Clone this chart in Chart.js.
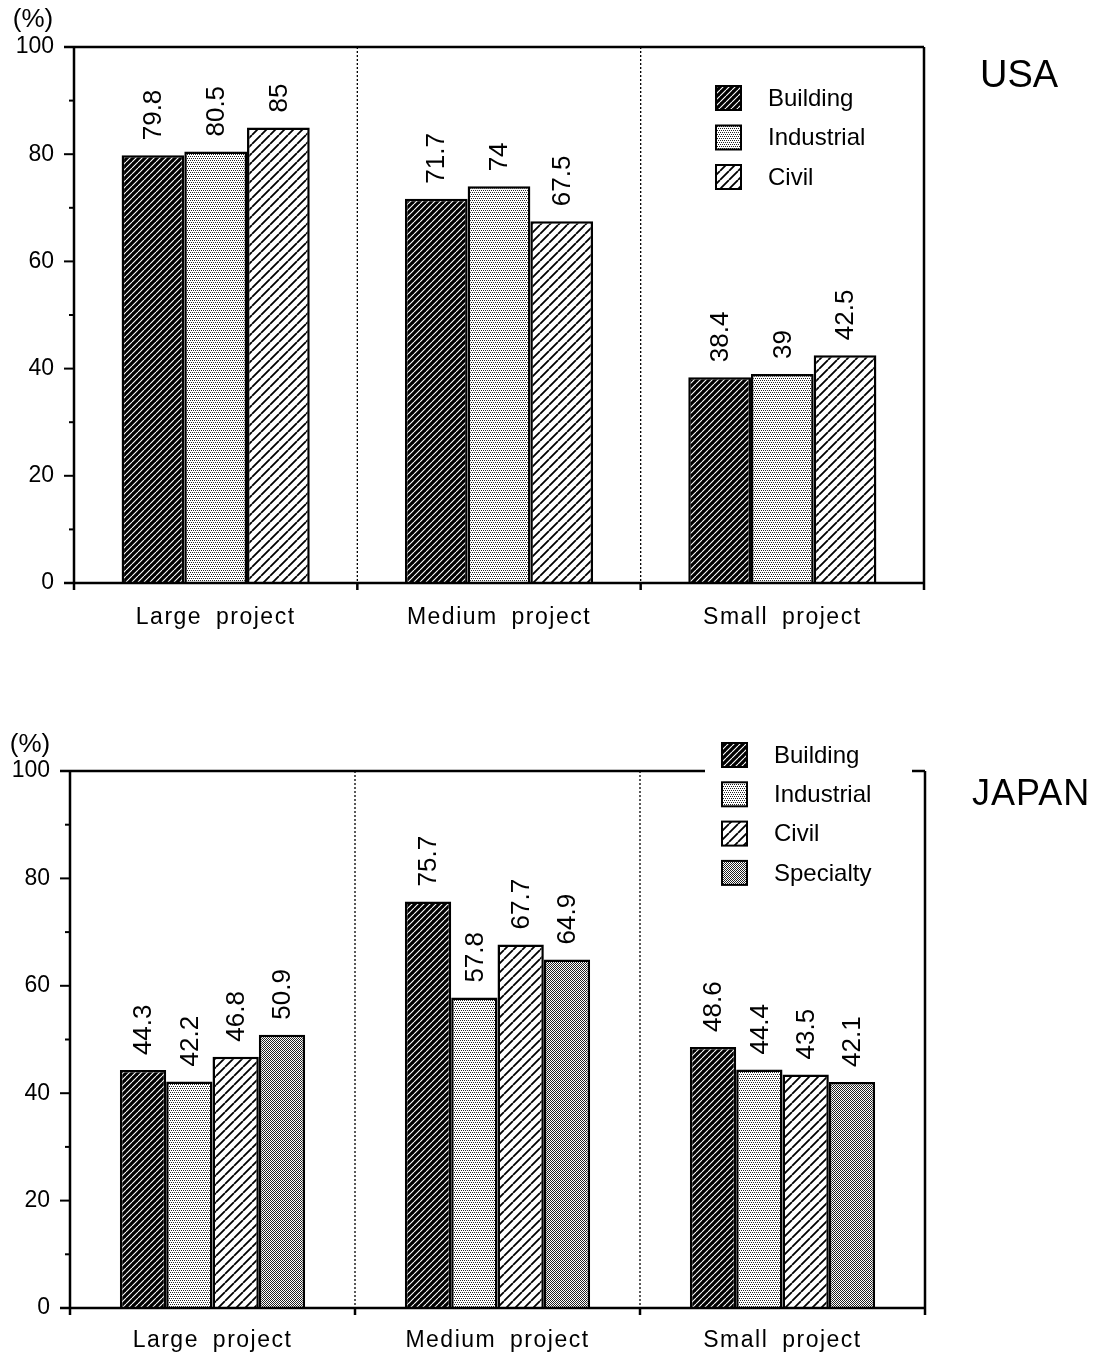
<!DOCTYPE html>
<html>
<head>
<meta charset="utf-8">
<script src="https://cdn.jsdelivr.net/npm/chart.js@4.4.0/dist/chart.umd.min.js"></script>
<style>
  body { margin: 0; background: #fff; }
  canvas { position: absolute; left: 0; }
  #usa { top: 0; }
  #japan { top: 680px; }
</style>
</head>
<body>
<canvas id="usa" width="1113" height="680"></canvas>
<canvas id="japan" width="1113" height="679"></canvas>
<script>
const categories = ['Large project', 'Medium project', 'Small project'];

const usaBuilding = [79.8, 71.7, 38.4];
const usaIndustrial = [80.5, 74, 39];
const usaCivil = [85, 67.5, 42.5];

const japanBuilding = [44.3, 75.7, 48.6];
const japanIndustrial = [42.2, 57.8, 44.4];
const japanCivil = [46.8, 67.7, 43.5];
const japanSpecialty = [50.9, 64.9, 42.1];

const yMax = 100;
const yLabelStep = 20;
const yMinorStep = 10;

const FONT = "'Liberation Sans', Arial, Helvetica, sans-serif";

// fill patterns like the old b/w print
function diag(g, s) {
  g.beginPath();
  for (const o of [-s, 0, s]) {
    g.moveTo(o, s);
    g.lineTo(o + s, 0);
  }
  g.stroke();
}

function makePattern(kind) {
  const c = document.createElement('canvas');
  const g = c.getContext('2d');
  if (kind === 'building') {
    c.width = c.height = 6;
    g.fillStyle = '#000';
    g.fillRect(0, 0, 6, 6);
    g.strokeStyle = '#fff';
    g.lineWidth = 1.1;
    diag(g, 6);
  } else if (kind === 'civil') {
    c.width = c.height = 9;
    g.fillStyle = '#fff';
    g.fillRect(0, 0, 9, 9);
    g.strokeStyle = '#000';
    g.lineWidth = 1.8;
    diag(g, 9);
  } else if (kind === 'industrial') {
    c.width = c.height = 4;
    g.fillStyle = '#fff';
    g.fillRect(0, 0, 4, 4);
    g.fillStyle = '#222';
    [[0, 0], [2, 0], [1, 2], [3, 2]].forEach(p => g.fillRect(p[0], p[1], 1, 1));
  } else {
    c.width = c.height = 2;
    g.fillStyle = '#fff';
    g.fillRect(0, 0, 2, 2);
    g.fillStyle = '#222';
    g.fillRect(0, 0, 1, 1);
    g.fillRect(1, 1, 1, 1);
  }
  return g.createPattern(c, 'repeat');
}

const fills = {
  Building: makePattern('building'),
  Industrial: makePattern('industrial'),
  Civil: makePattern('civil'),
  Specialty: makePattern('specialty')
};

function line(ctx, x1, y1, x2, y2) {
  ctx.beginPath();
  ctx.moveTo(x1, y1);
  ctx.lineTo(x2, y2);
  ctx.stroke();
}

const decor = {
  id: 'decor',
  afterDatasetsDraw(chart, args, o) {
    const ctx = chart.ctx;
    const { left, right, top, bottom } = chart.chartArea;
    const xs = chart.scales.x, ys = chart.scales.y;
    ctx.save();
    ctx.strokeStyle = '#000';
    ctx.fillStyle = '#000';

    // dotted dividers between categories
    ctx.lineWidth = 1.3;
    ctx.setLineDash([2, 2]);
    const bounds = [];
    for (let i = 1; i < categories.length; i++) {
      bounds.push((xs.getPixelForValue(i - 1) + xs.getPixelForValue(i)) / 2);
    }
    bounds.forEach(bx => line(ctx, bx, top, bx, bottom));
    ctx.setLineDash([]);

    // frame + axes
    ctx.lineWidth = 2.5;
    line(ctx, left, top, left, bottom + 7);
    line(ctx, left - 10, bottom, right, bottom);
    if (o.gap) {
      line(ctx, left - 10, top, o.gap[0], top);
      line(ctx, o.gap[1], top, right, top);
    } else {
      line(ctx, left - 10, top, right, top);
    }
    line(ctx, right, top, right, bottom + 7);
    bounds.forEach(bx => line(ctx, bx, bottom, bx, bottom + 7));

    // y tick marks
    ctx.lineWidth = 2;
    for (let v = 0; v <= yMax; v += yMinorStep) {
      const py = ys.getPixelForValue(v);
      const len = v % yLabelStep === 0 ? 10 : 5;
      line(ctx, left - len, py, left, py);
    }

    // value labels, rotated
    ctx.font = '26px ' + FONT;
    ctx.textAlign = 'left';
    ctx.textBaseline = 'middle';
    chart.data.datasets.forEach((ds, di) => {
      chart.getDatasetMeta(di).data.forEach((bar, i) => {
        ctx.save();
        ctx.translate(bar.x, bar.y - 15);
        ctx.rotate(-Math.PI / 2);
        ctx.fillText(String(ds.data[i]), 0, 1);
        ctx.restore();
      });
    });

    // category labels
    ctx.font = '23px ' + FONT;
    ctx.letterSpacing = '1.5px';
    ctx.wordSpacing = '6px';
    ctx.textAlign = 'center';
    categories.forEach((c, i) => ctx.fillText(c, xs.getPixelForValue(i), o.catY));
    ctx.letterSpacing = '0px';
    ctx.wordSpacing = '0px';

    // legend
    ctx.font = '24px ' + FONT;
    ctx.textAlign = 'left';
    chart.data.datasets.forEach((ds, i) => {
      const cy = o.legendY + i * o.legendStep;
      ctx.fillStyle = ds.backgroundColor;
      ctx.fillRect(o.legendX, cy - 12, 25, 24);
      ctx.lineWidth = 2;
      ctx.strokeRect(o.legendX, cy - 12, 25, 24);
      ctx.fillStyle = '#000';
      ctx.fillText(ds.label, o.legendX + 52, cy + 1);
    });

    // (%) and country title
    ctx.font = '26px ' + FONT;
    ctx.textAlign = 'center';
    ctx.fillText('(%)', o.pctX, o.pctY);
    ctx.font = o.titleSize + 'px ' + FONT;
    ctx.letterSpacing = o.titleSpacing;
    ctx.textAlign = 'left';
    ctx.fillText(o.title, o.titleX, o.titleY);
    ctx.restore();
  }
};

function buildChart(id, sets, box, deco) {
  const canvas = document.getElementById(id);
  return new Chart(canvas, {
    type: 'bar',
    data: {
      labels: categories,
      datasets: sets.map(s => ({
        label: s.label,
        data: s.data,
        backgroundColor: fills[s.label],
        borderColor: '#000',
        borderWidth: 2.5,
        barPercentage: 1,
        categoryPercentage: box.catPct
      }))
    },
    options: {
      responsive: false,
      devicePixelRatio: 1,
      animation: false,
      layout: { padding: { left: 0, top: box.top, right: canvas.width - box.right, bottom: 0 } },
      plugins: {
        legend: { display: false },
        tooltip: { enabled: false },
        decor: deco
      },
      scales: {
        x: {
          grid: { display: false, drawTicks: false },
          border: { display: false },
          ticks: { display: false },
          afterFit: s => { s.height = canvas.height - box.bottom; }
        },
        y: {
          min: 0,
          max: yMax,
          grid: { display: false, drawTicks: false },
          border: { display: false },
          ticks: {
            stepSize: yLabelStep,
            color: '#000',
            padding: 20,
            font: { family: FONT, size: 23 }
          },
          afterFit: s => { s.width = box.left; }
        }
      }
    },
    plugins: [decor]
  });
}

buildChart('usa', [
  { label: 'Building', data: usaBuilding },
  { label: 'Industrial', data: usaIndustrial },
  { label: 'Civil', data: usaCivil }
], { left: 74, top: 47, right: 924, bottom: 583, catPct: 0.664 }, {
  catY: 618, legendX: 716, legendY: 98, legendStep: 39.5,
  pctX: 33, pctY: 20, title: 'USA', titleX: 980, titleY: 77, titleSize: 38, titleSpacing: '0px'
});

buildChart('japan', [
  { label: 'Building', data: japanBuilding },
  { label: 'Industrial', data: japanIndustrial },
  { label: 'Civil', data: japanCivil },
  { label: 'Specialty', data: japanSpecialty }
], { left: 70, top: 91, right: 925, bottom: 628, catPct: 0.65 }, {
  catY: 661, legendX: 722, legendY: 75, legendStep: 39.3, gap: [705, 912],
  pctX: 30, pctY: 65, title: 'JAPAN', titleX: 972, titleY: 115, titleSize: 36, titleSpacing: '1px'
});
</script>
</body>
</html>
